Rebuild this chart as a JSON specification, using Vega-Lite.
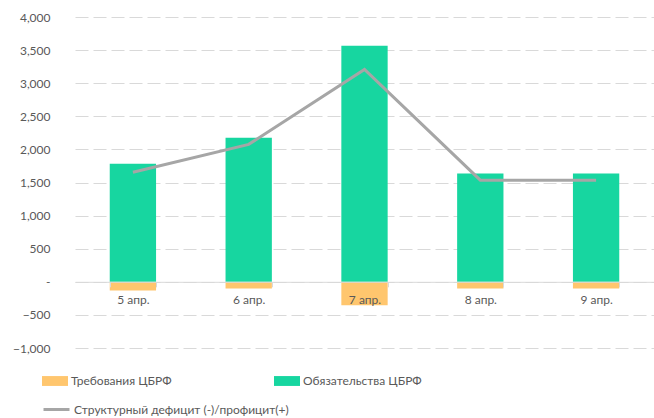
{
  "$schema": "https://vega.github.io/schema/vega-lite/v6.json",
  "width": 579,
  "height": 331,
  "autosize": {"type": "none"},
  "padding": {"left": 75, "top": 17, "right": 0, "bottom": 70},
  "background": "white",
  "config": {
    "font": "Lato",
    "view": {"stroke": null},
    "axis": {"labelFont": "Lato", "labelFontSize": 12, "labelColor": "#595959"},
    "legend": {
      "title": null,
      "orient": "none",
      "direction": "horizontal",
      "symbolSize": 676,
      "labelOffset": 3,
      "labelFont": "Lato",
      "labelFontSize": 12,
      "labelColor": "#595959",
      "labelLimit": 300
    }
  },
  "data": {
    "values": [
      {"date": "5 апр.", "series": "Требования ЦБРФ", "value": -130},
      {"date": "6 апр.", "series": "Требования ЦБРФ", "value": -100},
      {"date": "7 апр.", "series": "Требования ЦБРФ", "value": -356},
      {"date": "8 апр.", "series": "Требования ЦБРФ", "value": -100},
      {"date": "9 апр.", "series": "Требования ЦБРФ", "value": -100},
      {"date": "5 апр.", "series": "Обязательства ЦБРФ", "value": 1785},
      {"date": "6 апр.", "series": "Обязательства ЦБРФ", "value": 2176},
      {"date": "7 апр.", "series": "Обязательства ЦБРФ", "value": 3564},
      {"date": "8 апр.", "series": "Обязательства ЦБРФ", "value": 1635},
      {"date": "9 апр.", "series": "Обязательства ЦБРФ", "value": 1635},
      {"date": "5 апр.", "series": "Структурный дефицит (-)/профицит(+)", "value": 1655},
      {"date": "6 апр.", "series": "Структурный дефицит (-)/профицит(+)", "value": 2076},
      {"date": "7 апр.", "series": "Структурный дефицит (-)/профицит(+)", "value": 3208},
      {"date": "8 апр.", "series": "Структурный дефицит (-)/профицит(+)", "value": 1535},
      {"date": "9 апр.", "series": "Структурный дефицит (-)/профицит(+)", "value": 1535}
    ]
  },
  "encoding": {
    "x": {
      "field": "date",
      "type": "nominal",
      "sort": null,
      "title": null,
      "scale": {"paddingInner": 0.6, "paddingOuter": 0.3},
      "axis": {
        "orient": "bottom",
        "offset": -66.2,
        "labelAngle": 0,
        "tickBand": "extent",
        "domainColor": "#d9d9d9",
        "tickColor": "#d9d9d9",
        "tickSize": 5,
        "labelPadding": 8,
        "grid": false,
        "zindex": 1
      }
    },
    "y": {
      "field": "value",
      "type": "quantitative",
      "title": null,
      "scale": {"domain": [-1000, 4000], "nice": false, "zero": false},
      "axis": {
        "values": [-1000, -500, 0, 500, 1000, 1500, 2000, 2500, 3000, 3500, 4000],
        "labelExpr": "datum.value == 0 ? '-' : format(datum.value, ',')",
        "domain": false,
        "ticks": false,
        "labelPadding": 25,
        "grid": true,
        "gridColor": "#d9d9d9",
        "gridDash": [13, 5],
        "gridWidth": 1.2
      }
    }
  },
  "layer": [
    {
      "transform": [{"filter": "datum.series !== 'Структурный дефицит (-)/профицит(+)'"}],
      "mark": {"type": "bar", "stroke": null},
      "encoding": {
        "y": {"field": "value", "type": "quantitative", "stack": null},
        "color": {
          "field": "series",
          "type": "nominal",
          "scale": {
            "domain": ["Требования ЦБРФ", "Обязательства ЦБРФ"],
            "range": ["#ffc66e", "#17d6a0"]
          },
          "legend": {
            "legendX": -33,
            "legendY": 351,
            "columns": 2,
            "columnPadding": 102,
            "symbolType": "M-1,-0.38H1V0.38H-1Z",
            "symbolStrokeWidth": 0
          }
        }
      }
    },
    {
      "transform": [{"filter": "datum.series === 'Структурный дефицит (-)/профицит(+)'"}],
      "mark": {"type": "line", "strokeWidth": 3, "strokeCap": "butt"},
      "encoding": {
        "stroke": {
          "field": "series",
          "type": "nominal",
          "scale": {"range": ["#a6a6a6"]},
          "legend": {
            "legendX": -33,
            "legendY": 378,
            "symbolType": "stroke",
            "symbolStrokeWidth": 3
          }
        }
      }
    }
  ]
}
